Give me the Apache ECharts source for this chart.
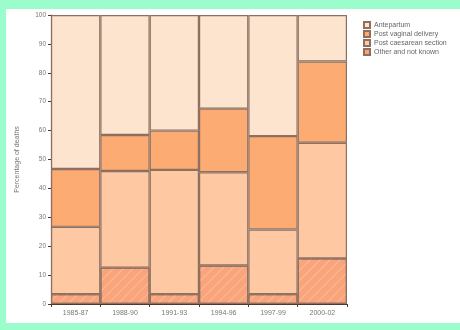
<!DOCTYPE html>
<html>
<head>
<meta charset="utf-8">
<script src="https://cdn.jsdelivr.net/npm/echarts@6/dist/echarts.min.js"></script>
<style>
  html, body { margin: 0; padding: 0; width: 460px; height: 330px; background: #9bfdcc; overflow: hidden; }
  #chart { position: absolute; left: 6px; top: 9px; width: 454px; height: 314px; background: #ffffff; }
</style>
</head>
<body>
<div id="chart"></div>
<script>
// Periods on the x axis
const periods = ['1985-87', '1988-90', '1991-93', '1994-96', '1997-99', '2000-02'];

// Percentage of deaths by timing, stacked bottom to top
const otherUnknown   = [3.4, 12.6, 3.4, 13.3, 3.4, 15.8];
const postCaesarean  = [23.3, 33.4, 43.0, 32.3, 22.4, 40.0];
const postVaginal    = [20.0, 12.5, 13.6, 22.0, 32.3, 28.1];
const antepartum     = [53.3, 41.5, 40.0, 32.4, 41.9, 16.1];

const yTicks = { min: 0, max: 100, interval: 10 };

const edge = '#8f7060';
const barBase = { type: 'bar', stack: 'total', barCategoryGap: 0,
  itemStyle: { borderColor: edge, borderWidth: 1.2 } };

const chart = echarts.init(document.getElementById('chart'), null, { renderer: 'canvas' });
chart.setOption({
  animation: false,
  textStyle: { fontFamily: 'Liberation Sans, Arial, sans-serif' },
  grid: { left: 35, right: 113, top: 6, bottom: 19 },
  legend: {
    orient: 'vertical', left: 352, top: 7,
    itemWidth: 6, itemHeight: 6, itemGap: 1,
    icon: 'rect',
    textStyle: { fontSize: 7, color: '#666', padding: [0, 0, 0, -1] },
    data: ['Antepartum', 'Post vaginal delivery', 'Post caesarean section', 'Other and not known']
  },
  xAxis: {
    type: 'category', data: periods,
    axisLine: { lineStyle: { color: '#4a3a30', width: 1.2 } },
    axisTick: { show: true, length: 3, lineStyle: { color: '#4a3a30' } },
    axisLabel: { fontSize: 7, color: '#777', margin: 6 }
  },
  yAxis: {
    type: 'value', min: yTicks.min, max: yTicks.max, interval: yTicks.interval,
    name: 'Percentage of deaths', nameLocation: 'middle', nameGap: 30,
    nameTextStyle: { fontSize: 7, color: '#777' },
    axisLine: { show: true, lineStyle: { color: '#4a3a30', width: 1.2 } },
    axisTick: { show: true, length: 3, lineStyle: { color: '#4a3a30' } },
    axisLabel: { fontSize: 6.5, color: '#777', margin: 5 },
    splitLine: { show: false }
  },
  series: [
    Object.assign({}, barBase, { name: 'Other and not known', data: otherUnknown,
      itemStyle: { color: '#f9a47a', borderColor: edge, borderWidth: 1.2,
        decal: { symbol: 'rect', dashArrayX: [1, 0], dashArrayY: [1, 6], rotation: -Math.PI / 4, color: 'rgba(255,215,185,0.45)' } } }),
    Object.assign({}, barBase, { name: 'Post caesarean section', data: postCaesarean,
      itemStyle: { color: '#fdc8a2', borderColor: edge, borderWidth: 1.2 } }),
    Object.assign({}, barBase, { name: 'Post vaginal delivery', data: postVaginal,
      itemStyle: { color: '#fcab72', borderColor: edge, borderWidth: 1.2 } }),
    Object.assign({}, barBase, { name: 'Antepartum', data: antepartum,
      itemStyle: { color: '#fde4cf', borderColor: edge, borderWidth: 1.2 } })
  ]
});
</script>
</body>
</html>
